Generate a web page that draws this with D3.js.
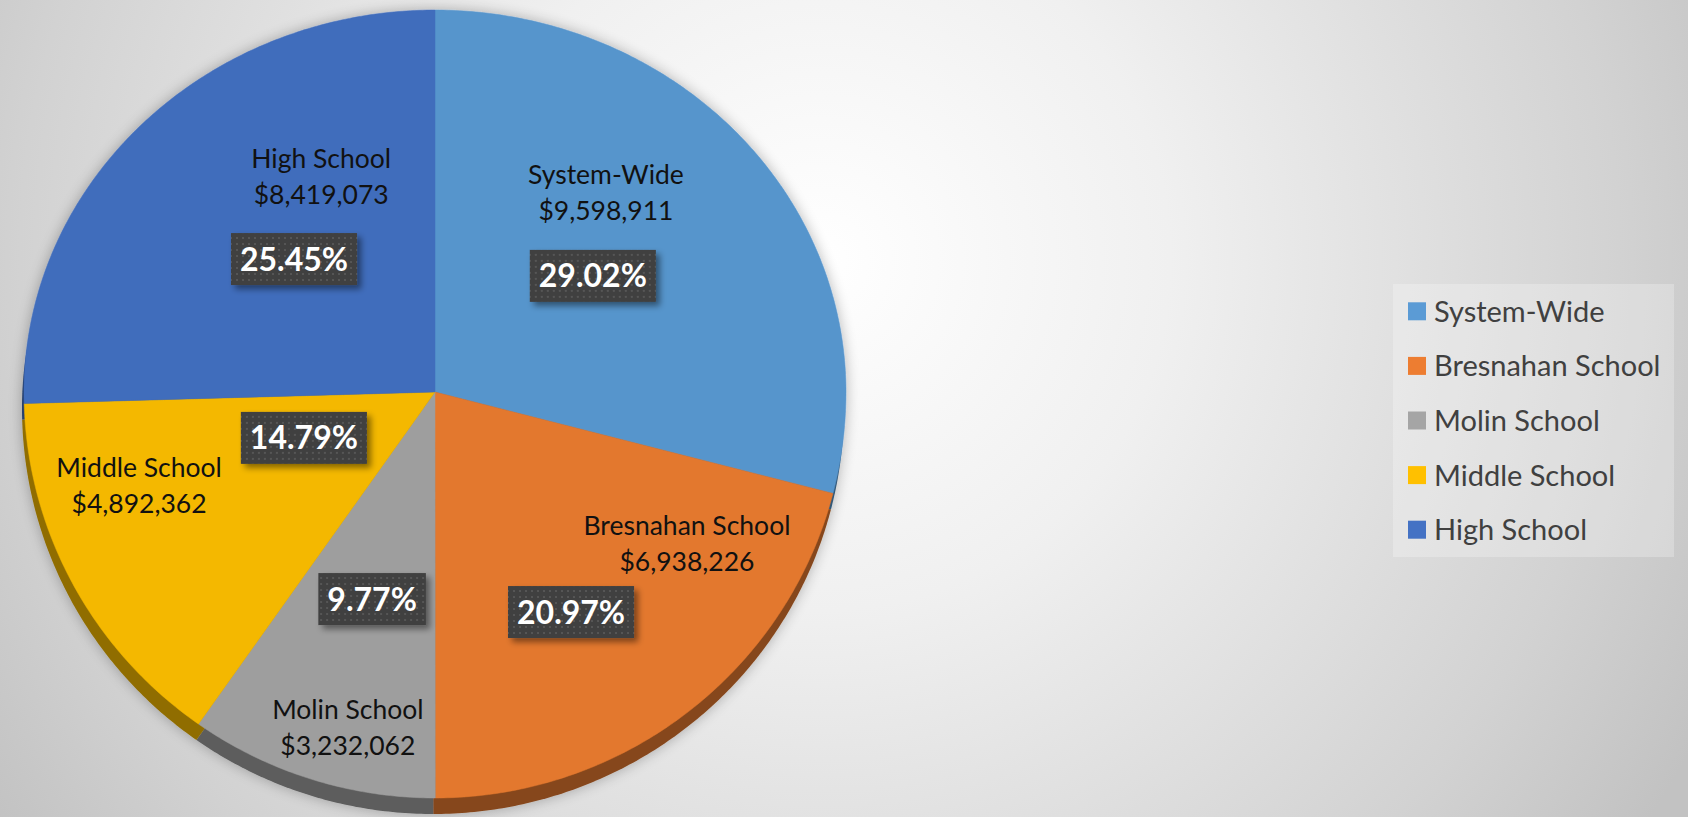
<!DOCTYPE html>
<html>
<head>
<meta charset="utf-8">
<script src="https://cdn.jsdelivr.net/npm/d3@7"></script>
<style>
    html, body { margin: 0; padding: 0; overflow: hidden; }
    svg { display: block; }
    text { font-family: Lato, "Open Sans", sans-serif; }
</style>
</head>
<body>
<svg id="chart" width="1688" height="817"></svg>
<script>

// chart data
var categories = ['System-Wide', 'Bresnahan School', 'Molin School', 'Middle School', 'High School'];
var amounts = [9598911, 6938226, 3232062, 4892362, 8419073];
var colors = ['#5b9bd5', '#ed7d31', '#a5a5a5', '#ffc000', '#4472c4'];

// label placement, in units of the pie radius (x right, y down)
var name_offsets = [[0.416, -0.53], [0.613, 0.366], [-0.212, 0.82], [-0.72, 0.224], [-0.277, -0.57]];
var box_offsets = [[0.384, -0.304], [0.331, 0.542], [-0.153, 0.51], [-0.319, 0.113], [-0.343, -0.348]];


var svg = d3.select('#chart');
var width = 1688,
    height = 817;

var cx = 435,
    cy = 392,
    rx = 411,
    ry_top = 382,
    ry_bottom = 406,
    depth = 16;

var x = d3.scaleLinear().domain([-1, 1]).range([cx - rx, cx + rx]);
var y = d3.scaleLinear().domain([-1, 0, 1]).range([cy - ry_top, cy, cy + ry_bottom]);

var total = d3.sum(amounts);
var percent = d3.format('.2%'),
    dollars = d3.format('$,');

var data = categories.map(function (c, i) {
    return { name: c, value: amounts[i], color: colors[i], index: i };
});

var pie = d3.pie()
    .sort(null)
    .value(function (d) { return d.value; });

var arcs = pie(data);

var defs = svg.append('defs');

// background
var bg = defs.append('radialGradient')
    .attr('id', 'bg')
    .attr('gradientUnits', 'userSpaceOnUse')
    .attr('cx', 820).attr('cy', 260).attr('r', 1000);
bg.append('stop').attr('offset', 0).attr('stop-color', '#ffffff');
bg.append('stop').attr('offset', 0.35).attr('stop-color', '#f0f0f0');
bg.append('stop').attr('offset', 0.8).attr('stop-color', '#d2d2d2');
bg.append('stop').attr('offset', 1).attr('stop-color', '#c2c2c2');

svg.append('rect')
    .attr('width', width)
    .attr('height', height)
    .attr('fill', 'url(#bg)');

// soft shadow around the pie
var glow = defs.append('filter')
    .attr('id', 'glow')
    .attr('x', '-10%').attr('y', '-10%')
    .attr('width', '120%').attr('height', '120%');
glow.append('feGaussianBlur').attr('in', 'SourceAlpha').attr('stdDeviation', 7).attr('result', 'blur');
glow.append('feComponentTransfer').attr('in', 'blur').attr('result', 'soft')
    .append('feFuncA').attr('type', 'linear').attr('slope', 0.28);
var gm = glow.append('feMerge');
gm.append('feMergeNode').attr('in', 'soft');
gm.append('feMergeNode').attr('in', 'SourceGraphic');

// shadow for the percent boxes
var box_shadow = defs.append('filter')
    .attr('id', 'boxshadow')
    .attr('x', '-20%').attr('y', '-30%')
    .attr('width', '150%').attr('height', '170%');
box_shadow.append('feDropShadow')
    .attr('dx', 4).attr('dy', 4)
    .attr('stdDeviation', 3)
    .attr('flood-color', '#000')
    .attr('flood-opacity', 0.45);

// dotted texture of the percent boxes
var dots = defs.append('pattern')
    .attr('id', 'dots')
    .attr('patternUnits', 'userSpaceOnUse')
    .attr('width', 6).attr('height', 6);
dots.append('rect').attr('width', 6).attr('height', 6).attr('fill', '#404040');
dots.append('rect').attr('x', 2).attr('y', 2).attr('width', 2).attr('height', 2).attr('fill', '#565656');


// outline of a slice on the tilted ellipse
function slice_path (a, dx, dy) {
    var n = Math.max(2, Math.ceil((a.endAngle - a.startAngle) / 0.01));
    var pts = [[x(0) + dx, y(0) + dy]];
    d3.range(n + 1).forEach(function (k) {
        var t = a.startAngle + (a.endAngle - a.startAngle) * k / n;
        pts.push([x(Math.sin(t)) + dx, y(-Math.cos(t)) + dy]);
    });
    return d3.line()(pts) + 'Z';
}

var pie_group = svg.append('g')
    .attr('filter', 'url(#glow)');

// 3d edge
pie_group.append('g')
    .selectAll('path')
    .data(arcs)
    .enter()
    .append('path')
    .attr('d', function (d) { return slice_path(d, -2, depth); })
    .attr('fill', function (d) { return d3.color(d.data.color).darker(1.6); });

// top face
pie_group.append('g')
    .selectAll('path')
    .data(arcs)
    .enter()
    .append('path')
    .attr('d', function (d) { return slice_path(d, 0, 0); })
    .attr('fill', function (d) { return d3.color(d.data.color).darker(0.12); })
    .attr('stroke', function (d) { return d3.color(d.data.color).darker(0.12); })
    .attr('stroke-width', 0.5);

// category + amount labels
var names = svg.append('g')
    .selectAll('text')
    .data(arcs)
    .enter()
    .append('text')
    .attr('text-anchor', 'middle')
    .attr('fill', '#111')
    .style('font-size', '26.5px')
    .attr('transform', function (d) {
        var o = name_offsets[d.index];
        return 'translate(' + x(o[0]) + ',' + y(o[1]) + ')';
    });

names.append('tspan')
    .attr('x', 0)
    .attr('dy', -6)
    .text(function (d) { return d.data.name; });

names.append('tspan')
    .attr('x', 0)
    .attr('dy', 36)
    .text(function (d) { return dollars(d.data.value); });

// percent boxes
var boxes = svg.append('g')
    .selectAll('g')
    .data(arcs)
    .enter()
    .append('g')
    .attr('transform', function (d) {
        var o = box_offsets[d.index];
        return 'translate(' + x(o[0]) + ',' + y(o[1]) + ')';
    });

boxes.append('text')
    .attr('text-anchor', 'middle')
    .attr('dy', '0.36em')
    .attr('fill', '#fff')
    .style('font-size', '32px')
    .style('font-weight', 'bold')
    .text(function (d) { return percent(d.data.value / total); });

boxes.each(function () {
    var g = d3.select(this),
        bb = g.select('text').node().getBBox();
    g.insert('rect', 'text')
        .attr('x', bb.x - 9)
        .attr('y', -26)
        .attr('width', bb.width + 18)
        .attr('height', 52)
        .attr('fill', 'url(#dots)')
        .attr('filter', 'url(#boxshadow)');
});

// legend
var legend = svg.append('g')
    .attr('transform', 'translate(1393,284)');

legend.append('rect')
    .attr('width', 281)
    .attr('height', 273)
    .attr('fill', '#ffffff')
    .attr('fill-opacity', 0.25);

var row = d3.scaleBand()
    .domain(categories)
    .range([0, 273]);

var items = legend.selectAll('g.item')
    .data(data)
    .enter()
    .append('g')
    .attr('class', 'item')
    .attr('transform', function (d) {
        return 'translate(15,' + (row(d.name) + row.bandwidth() / 2) + ')';
    });

items.append('rect')
    .attr('y', -9)
    .attr('width', 18)
    .attr('height', 18)
    .attr('fill', function (d) { return d.color; });

items.append('text')
    .attr('x', 26)
    .attr('dy', '0.36em')
    .attr('fill', '#404040')
    .style('font-size', '29px')
    .text(function (d) { return d.name; });

</script>
</body>
</html>
